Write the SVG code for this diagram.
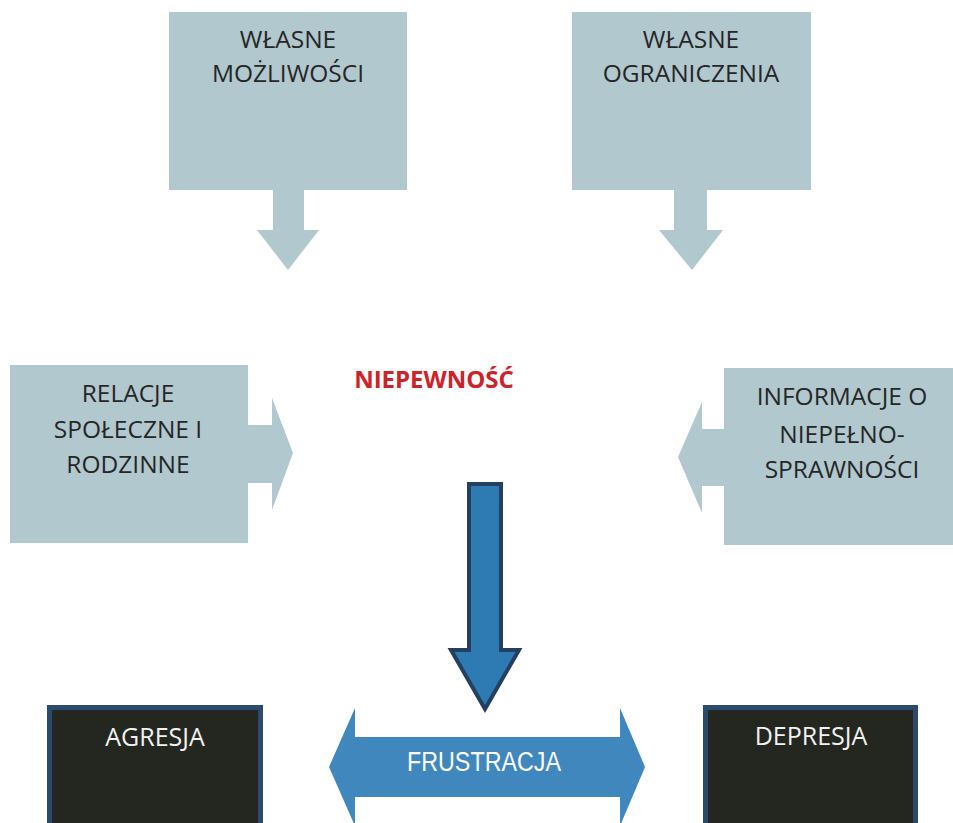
<svg xmlns="http://www.w3.org/2000/svg" width="953" height="823" viewBox="0 0 953 823">
<style>
.lb{fill:#b1c8cf}
.lt{font-family:"Open Sans","Liberation Sans",sans-serif;font-size:24.5px;fill:#262626;text-anchor:middle}
.dk{fill:#232720;stroke:#2c4a6e;stroke-width:5}
.wt{font-family:"Open Sans","Liberation Sans",sans-serif;font-size:25px;fill:#f2f2f2;text-anchor:middle}
</style>
<rect width="953" height="823" fill="#ffffff"/>
<g id="wlasne-mozliwosci">
<rect class="lb" x="169" y="12" width="238" height="178"/>
<text class="lt" x="288" y="48">WŁASNE</text>
<text class="lt" x="288" y="82">MOŻLIWOŚCI</text>
</g>
<g id="wlasne-ograniczenia">
<rect class="lb" x="572" y="12" width="239" height="178"/>
<text class="lt" x="691" y="48">WŁASNE</text>
<text class="lt" x="691" y="82">OGRANICZENIA</text>
</g>
<g id="relacje">
<rect class="lb" x="10" y="365" width="238" height="178"/>
<text class="lt" x="128" y="402">RELACJE</text>
<text class="lt" x="128" y="438">SPOŁECZNE I</text>
<text class="lt" x="128" y="473">RODZINNE</text>
</g>
<g id="informacje">
<rect class="lb" x="724" y="368" width="229" height="177"/>
<text class="lt" x="842" y="405">INFORMACJE O</text>
<text class="lt" x="842" y="443">NIEPEŁNO-</text>
<text class="lt" x="842" y="478">SPRAWNOŚCI</text>
</g>
<g id="niepewnosc">
<text x="434" y="388" font-family="'Open Sans','Liberation Sans',sans-serif" font-size="24" font-weight="bold" fill="#cc2229" text-anchor="middle">NIEPEWNOŚĆ</text>
</g>
<g id="agresja">
<rect class="dk" x="49.500" y="707.500" width="211" height="130"/>
<text class="wt" x="155" y="746">AGRESJA</text>
</g>
<g id="depresja">
<rect class="dk" x="705.500" y="707.500" width="210" height="130"/>
<text class="wt" x="811" y="745">DEPRESJA</text>
</g>
<g id="frustracja">
<polygon points="329,767 355,708 355,737 620,737 620,708 645,767 620,826 620,797 355,797 355,826" fill="#3f87bd"/>
<text x="484" y="771" font-family="'Liberation Sans',Arial,sans-serif" font-size="27" fill="#ffffff" text-anchor="middle" textLength="154" lengthAdjust="spacingAndGlyphs">FRUSTRACJA</text>
</g>
<g id="connectors">
<polygon class="lb" points="273,190 304,190 304,230 319,230 288,270 257,230 273,230"/>
<polygon class="lb" points="674,190 707,190 707,230 723,230 692,270 659,230 674,230"/>
<polygon class="lb" points="248,425 272,425 272,398 293,453 272,510 272,483 248,483"/>
<polygon class="lb" points="724,429 702,429 702,402 678,457 702,513 702,486 724,486"/>
<polygon points="469,484 501,484 501,650 519,650 485,709 451,650 469,650" fill="#2e7bb4" stroke="#243f60" stroke-width="4" stroke-linejoin="miter"/>
</g>
</svg>
